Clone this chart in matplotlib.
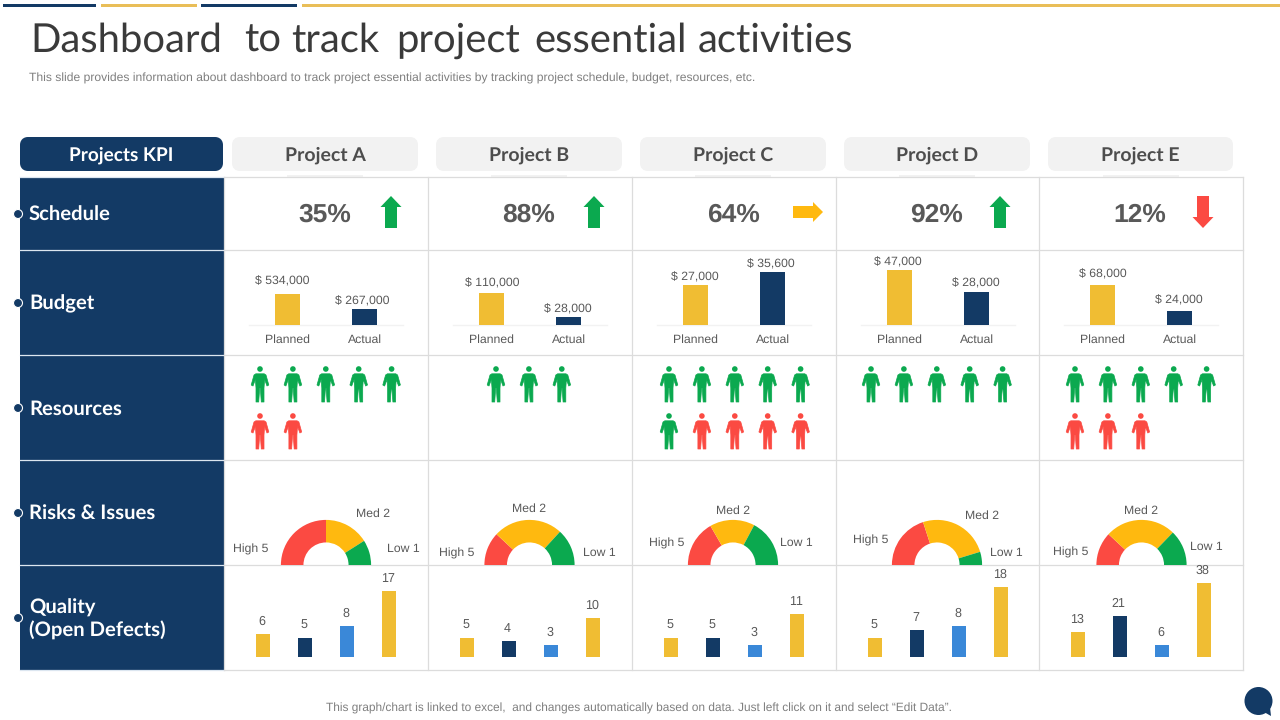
import matplotlib
matplotlib.use("Agg")
import matplotlib.pyplot as plt
from matplotlib.patches import FancyBboxPatch, Rectangle, Circle, Polygon

NAVY = "#133A65"
YELLOW = "#F0BD33"
STRIP = "#E9BE58"
BLUE = "#3A88D8"
GREEN = "#0BA94F"
RED = "#FB4A42"
AMBER = "#FFB90F"
GRID = "#DCDCDC"
TEXT = "#595959"

plt.rcParams["font.family"] = ["Liberation Sans", "DejaVu Sans"]
plt.rcParams["text.hinting"] = "none"
plt.rcParams["text.kerning_factor"] = 6

# data
title_words = ["Dashboard", "to", "track", "project", "essential", "activities"]
projects = ["Project A", "Project B", "Project C", "Project D", "Project E"]
kpis = ["Schedule", "Budget", "Resources", "Risks & Issues", "Quality\n(Open Defects)"]
schedule = ["35%", "88%", "64%", "92%", "12%"]
trend = ["up", "up", "flat", "up", "down"]
budget_labels = ["Planned", "Actual"]
budget_planned = [534000, 110000, 27000, 47000, 68000]
budget_actual = [267000, 28000, 35600, 28000, 24000]
budget_ymax = [1205800, 240600, 47250, 59800, 119000]
res_green = [[5, 0], [3, 0], [5, 1], [5, 0], [5, 0]]
res_red = [[0, 2], [0, 0], [0, 4], [0, 0], [0, 3]]
risk_labels = ["High 5", "Med 2", "Low 1"]
risk_shares = [[90, 57.6, 32.4], [43, 89.5, 47.5], [60, 58, 62], [72, 91, 17], [43, 91, 46]]
quality = [[6, 5, 8, 17], [5, 4, 3, 10], [5, 5, 3, 11], [5, 7, 8, 18], [13, 21, 6, 38]]
quality_ymax = [20, 20, 20, 20, 40]

# layout in pixels
W, H = 1280, 720
title_x = [30, 244, 291, 396, 534, 698]
col_x = [224, 428, 632, 836, 1039, 1243]
row_y = [177, 250, 355, 460, 565, 670]
head_x = [(232, 418), (436, 622), (640, 826), (844, 1030), (1048, 1233)]
kpi_y = [216, 305, 410, 515, 620]
arrow_dx = [65, 64, 74, 62.5, 62]
budget_pos = [
    [(282.5, 281), (362.5, 301)],
    [(492.5, 283), (568, 309)],
    [(695, 277), (771, 264)],
    [(898, 262), (976, 283)],
    [(1103, 274), (1179, 300)],
]
risk_centers = [(326, 565), (529.5, 565), (733, 565), (937, 565), (1141.5, 565)]
risk_pos = [
    [(251, 549), (373, 514), (403, 549)],
    [(457, 553), (529, 509), (599, 553)],
    [(667, 543), (733, 511), (796, 543)],
    [(871, 540), (982, 516), (1006, 553)],
    [(1071, 552), (1141, 511), (1206, 547)],
]
person_start = [260, 496, 669, 871, 1075]
person_rows = [366, 413]

fig = plt.figure(figsize=(W / 100, H / 100), dpi=100)
ax = fig.add_axes([0, 0, 1, 1])
ax.set_xlim(0, W)
ax.set_ylim(H, 0)
ax.axis("off")


def inset(x0, y0, x1, y1):
    a = fig.add_axes([x0 / W, 1 - y1 / H, (x1 - x0) / W, (y1 - y0) / H])
    a.axis("off")
    return a


def person(x, y, color):
    # x is the middle of the icon, y the top
    ax.add_patch(Circle((x, y + 3), 2.8, color=color, lw=0))
    pts = [(-4.2, 7.8), (4.2, 7.8), (6, 9), (8.8, 19), (7, 20), (4.6, 13.5), (4, 22), (4, 36), (1.3, 36),
           (0.3, 22), (-0.3, 22), (-1.3, 36), (-4, 36), (-4, 22), (-4.6, 13.5), (-7, 20), (-8.8, 19), (-6, 9)]
    ax.add_patch(Polygon([(x + a, y + b) for a, b in pts], closed=True, fc=color, ec=color, lw=0.5,
                         joinstyle="round"))


def arrow(x, y, kind):
    if kind == "up":
        pts = [(0, -16), (10.5, -5), (6, -5), (6, 16), (-6, 16), (-6, -5), (-10.5, -5)]
        color = GREEN
    elif kind == "down":
        pts = [(0, 16), (10.5, 5), (6, 5), (6, -16), (-6, -16), (-6, 5), (-10.5, 5)]
        color = RED
    else:
        pts = [(15, 0), (5, -10), (5, -6), (-15, -6), (-15, 6), (5, 6), (5, 10)]
        color = AMBER
    ax.add_patch(Polygon([(x + a, y + b) for a, b in pts], closed=True, color=color, lw=0))


# top strips
for (x0, x1), c in zip([(3, 96), (101, 197), (201, 297), (302, 1280)], [NAVY, STRIP, NAVY, STRIP]):
    ax.add_patch(Rectangle((x0, 4), x1 - x0, 3, color=c, lw=0))

for x, word in zip(title_x, title_words):
    ax.text(x, 52, word, fontsize=28.8, family="Lato", color="#3A3A3A", va="baseline", ha="left")
ax.text(29, 78.5, "This slide provides information about dashboard to track project essential activities by "
        "tracking project schedule, budget, resources, etc.", fontsize=8.7, color="#7F7F7F", va="center")

# header boxes
ax.add_patch(FancyBboxPatch((24, 141), 195, 26, boxstyle="round,pad=0,rounding_size=4",
                            fc=NAVY, ec=NAVY, lw=8 * 0.72, joinstyle="round"))
ax.text(121, 155, "Projects KPI", fontsize=13.7, family="Lato", weight="bold", color="white", ha="center", va="center")
for (x0, x1), name in zip(head_x, projects):
    ax.add_patch(FancyBboxPatch((x0 + 4, 141), x1 - x0 - 8, 26, boxstyle="round,pad=0,rounding_size=4",
                                fc="#F2F2F2", ec="#F2F2F2", lw=8 * 0.72))
    ax.add_patch(Rectangle(((x0 + x1) / 2 - 38, 175), 76, 2, color="#F2F2F2", lw=0))
    ax.text((x0 + x1) / 2, 155, name, fontsize=14, family="Lato", weight="bold", color="#4D4D4D", ha="center", va="center")

# table
ax.add_patch(Rectangle((20, 177), 204, 493, color=NAVY, lw=0))
for y in row_y:
    ax.plot([223.5, 1243], [y, y], color=GRID, lw=0.9)
    ax.plot([20, 224], [y, y], color="#DCE6F0", lw=0.9)
for x in col_x:
    ax.plot([x - 0.5, x - 0.5], [177, 670], color=GRID, lw=0.9)
for y, name in zip(kpi_y, kpis):
    ax.add_patch(Circle((18, y - 2), 4.5, fc=NAVY, ec="white", lw=0.8, zorder=5))
    ax.text(29, y - 1, name, fontsize=14.6, family="Lato", weight="bold", color="white", va="center", linespacing=1.26)

for i in range(5):
    left, right = col_x[i], col_x[i + 1]
    mid = (left + right) / 2

    # schedule
    ax.text(mid - 1, 215, schedule[i], fontsize=19, weight="bold", color=TEXT, ha="center", va="center")
    arrow(mid + arrow_dx[i], 212, trend[i])

    # budget
    b = inset(left + 25, 255, left + 179, 325)
    b.bar([0, 1], [budget_planned[i], budget_actual[i]], width=0.33, color=[YELLOW, NAVY])
    b.set_xlim(-0.5, 1.5)
    b.set_ylim(0, budget_ymax[i])
    b.axhline(0, color="#F2F2F2", lw=1, clip_on=False, zorder=0)
    for k, v in enumerate([budget_planned[i], budget_actual[i]]):
        tx, ty = budget_pos[i][k]
        ax.text(tx, ty, f"$ {v:,}", ha="center", va="center", fontsize=8.8, color=TEXT)
        b.annotate(budget_labels[k], (k, 0), xytext=(0, -10.5), textcoords="offset points", ha="center", va="center",
                   fontsize=8.8, color=TEXT, annotation_clip=False)

    # resources
    for r, y in enumerate(person_rows):
        n = 0
        for count, color in [(res_green[i][r], GREEN), (res_red[i][r], RED)]:
            for _ in range(count):
                person(person_start[i] + n * 32.9, y, color)
                n += 1

    # risks
    cx, cy = risk_centers[i]
    p = inset(cx - 46, cy - 46, cx + 46, cy + 46)
    vals = risk_shares[i] + [180]
    p.pie(vals, startangle=180, counterclock=False, radius=1, colors=[RED, AMBER, GREEN, "none"],
          wedgeprops=dict(width=0.5, lw=0))
    p.set_xlim(-1.02, 1.02)
    p.set_ylim(-1.02, 1.02)
    for (tx, ty), lab in zip(risk_pos[i], risk_labels):
        ax.text(tx, ty, lab, fontsize=8.8, color=TEXT, ha="center", va="center")

    # quality
    q = inset(left + 18, 579, left + 186, 657)
    q.bar(range(4), quality[i], width=0.33, color=[YELLOW, NAVY, BLUE, YELLOW])
    q.set_xlim(-0.5, 3.5)
    q.set_ylim(0, quality_ymax[i])
    for k, v in enumerate(quality[i]):
        q.annotate(str(v), (k, v), xytext=(-1, 4.5), textcoords="offset points", ha="center", va="bottom",
                   fontsize=9, color=TEXT, annotation_clip=False)

ax.text(639, 708, "This graph/chart is linked to excel,  and changes automatically based on data. "
        "Just left click on it and select \u201cEdit Data\u201d.", fontsize=8.6, color="#7F7F7F", ha="center", va="center")

# chat bubble
ax.add_patch(Circle((1258.5, 701), 14, color=NAVY, lw=0, zorder=6))
ax.add_patch(Polygon([(1264, 712), (1271, 716), (1270, 707)], closed=True, color=NAVY, lw=0, zorder=6))

fig.savefig("out.png", dpi=100)
